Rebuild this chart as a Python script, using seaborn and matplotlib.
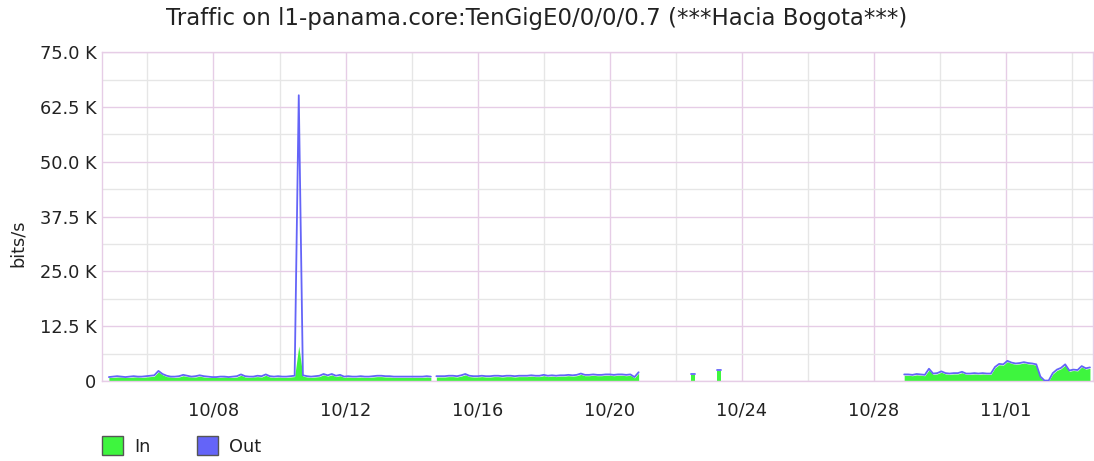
import matplotlib
matplotlib.use("Agg")
import numpy as np
import pandas as pd
import matplotlib.pyplot as plt
import seaborn as sns
import matplotlib.dates as mdates
from matplotlib.patches import Patch
from matplotlib.ticker import FuncFormatter, FixedLocator

# ---------------- data (values in K bits/s) ----------------
title = "Traffic on l1-panama.core:TenGigE0/0/0/0.7 (***Hacia Bogota***)"
ylabel = "bits/s"
series_names = ["In", "Out"]
step = "3h"

seg_starts = ["2023-10-04 20:00", "2023-10-14 18:00", "2023-10-22 11:00",
              "2023-10-23 06:00", "2023-10-28 22:00"]

out_seg1 = [0.9, 1.0, 1.1, 1.0, 0.9, 1.0, 1.1, 1.0, 1.0, 1.1,
            1.2, 1.3, 2.3, 1.6, 1.2, 1.0, 1.0, 1.1, 1.4, 1.2,
            1.0, 1.1, 1.3, 1.1, 1.0, 0.9, 0.9, 1.0, 1.0, 0.9,
            1.0, 1.1, 1.5, 1.1, 1.0, 1.0, 1.2, 1.1, 1.5, 1.1,
            1.0, 1.1, 1.0, 1.0, 1.1, 1.2, 65.2, 1.3, 1.1, 1.0,
            1.1, 1.2, 1.6, 1.3, 1.6, 1.2, 1.4, 1.0, 1.1, 1.0,
            1.0, 1.1, 1.0, 1.0, 1.1, 1.2, 1.2, 1.1, 1.1, 1.0,
            1.0, 1.0, 1.0, 1.0, 1.0, 1.0, 1.0, 1.1, 1.0]
in_seg1 = [0.8, 0.8, 0.9, 0.9, 0.8, 0.8, 0.9, 0.9, 0.8, 0.9,
           1.0, 1.1, 2.1, 1.4, 1.0, 0.9, 0.8, 0.9, 1.2, 1.0,
           0.9, 0.9, 1.1, 0.9, 0.8, 0.8, 0.8, 0.8, 0.9, 0.8,
           0.8, 0.9, 1.3, 0.9, 0.8, 0.9, 1.0, 0.9, 1.3, 0.9,
           0.8, 0.9, 0.8, 0.8, 0.9, 1.0, 8.0, 1.1, 0.9, 0.8,
           0.9, 1.0, 1.4, 1.1, 1.4, 1.0, 1.2, 0.8, 0.9, 0.8,
           0.8, 0.9, 0.8, 0.8, 0.9, 1.0, 1.0, 0.9, 0.9, 0.8,
           0.8, 0.8, 0.8, 0.8, 0.8, 0.8, 0.8, 0.9, 0.8]

out_seg2 = [1.1, 1.1, 1.1, 1.2, 1.2, 1.1, 1.3, 1.6, 1.2, 1.1,
            1.1, 1.2, 1.1, 1.1, 1.2, 1.2, 1.1, 1.2, 1.2, 1.1,
            1.2, 1.2, 1.2, 1.3, 1.2, 1.2, 1.4, 1.2, 1.3, 1.2,
            1.3, 1.3, 1.4, 1.3, 1.4, 1.7, 1.4, 1.4, 1.5, 1.4,
            1.4, 1.5, 1.5, 1.4, 1.5, 1.5, 1.4, 1.5, 0.9, 2.0]
in_seg2 = [0.9, 0.9, 0.9, 1.0, 1.0, 0.9, 1.1, 1.4, 1.0, 0.9,
           0.9, 1.0, 0.9, 0.9, 1.0, 1.0, 0.9, 1.0, 1.0, 0.9,
           1.0, 1.0, 1.0, 1.1, 1.0, 1.0, 1.2, 1.0, 1.1, 1.0,
           1.1, 1.1, 1.2, 1.1, 1.2, 1.5, 1.2, 1.2, 1.3, 1.2,
           1.2, 1.3, 1.3, 1.2, 1.3, 1.3, 1.2, 1.3, 0.7, 1.8]

out_seg3 = [1.5, 1.5]
in_seg3 = [1.3, 1.3]

out_seg4 = [2.4, 2.4]
in_seg4 = [2.2, 2.2]

out_seg5 = [1.5, 1.5, 1.4, 1.6, 1.5, 1.4, 2.8, 1.7, 1.8, 2.2,
            1.8, 1.7, 1.8, 1.8, 2.1, 1.7, 1.7, 1.8, 1.7, 1.8,
            1.7, 1.7, 3.2, 3.9, 3.8, 4.6, 4.2, 4.0, 4.1, 4.3,
            4.1, 4.0, 3.8, 1.0, 0.1, 0.1, 1.8, 2.6, 3.0, 3.8,
            2.4, 2.6, 2.5, 3.4, 2.9, 3.1]
in_seg5 = [1.3, 1.3, 1.2, 1.4, 1.3, 1.2, 2.5, 1.5, 1.6, 2.0,
           1.6, 1.5, 1.6, 1.6, 1.9, 1.5, 1.5, 1.6, 1.5, 1.6,
           1.5, 1.5, 3.0, 3.7, 3.6, 4.4, 4.0, 3.8, 3.9, 4.1,
           3.9, 3.8, 3.6, 0.8, 0.0, 0.0, 1.6, 2.4, 2.8, 3.6,
           2.2, 2.4, 2.3, 3.2, 2.7, 2.9]

x_major_dates = ["2023-10-08", "2023-10-12", "2023-10-16", "2023-10-20",
                 "2023-10-24", "2023-10-28", "2023-11-01"]
x_major_labels = ["10/08", "10/12", "10/16", "10/20", "10/24", "10/28", "11/01"]
x_minor_dates = ["2023-10-06", "2023-10-10", "2023-10-14", "2023-10-18",
                 "2023-10-22", "2023-10-26", "2023-10-30", "2023-11-03"]
x_range = ["2023-10-04 15:00", "2023-11-03 15:00"]
y_major_k = [0, 12.5, 25.0, 37.5, 50.0, 62.5, 75.0]
y_minor_k = [6.25, 18.75, 31.25, 43.75, 56.25, 68.75]

# ---------------- build table ----------------
outs = [out_seg1, out_seg2, out_seg3, out_seg4, out_seg5]
ins = [in_seg1, in_seg2, in_seg3, in_seg4, in_seg5]
frames = []
for k, (st, o, i) in enumerate(zip(seg_starts, outs, ins)):
    t = pd.date_range(st, periods=len(o), freq=step)
    frames.append(pd.DataFrame({"time": t, "Out": np.array(o) * 1000,
                                "In": np.array(i) * 1000, "seg": k}))
df = pd.concat(frames, ignore_index=True)

# ---------------- style ----------------
sns.set_theme(style="white")
plt.rcParams["font.family"] = ["DejaVu Sans"]

c_in = "#3ef53e"
c_out = "#6464f8"
c_major = "#e6cde6"
c_minor = "#e6e6e6"
txt = "#222222"

W, H = 1094, 461
fig = plt.figure(figsize=(W / 100, H / 100), dpi=100)
left, right, top, bottom = 102, 1092.7, 52.3, 381
ax = fig.add_axes([left / W, 1 - bottom / H, (right - left) / W, (bottom - top) / H])

for k, g in df.groupby("seg"):
    ax.fill_between(g["time"], 0, g["In"], color=c_in, lw=0, zorder=2)
sns.lineplot(data=df, x="time", y="Out", units="seg", estimator=None,
             color=c_out, lw=1.3, ax=ax, zorder=3, legend=False)

ax.set_xlim(pd.Timestamp(x_range[0]), pd.Timestamp(x_range[1]))
ax.set_ylim(0, 75000)

ax.xaxis.set_major_locator(FixedLocator(mdates.date2num(pd.to_datetime(x_major_dates))))
ax.xaxis.set_minor_locator(FixedLocator(mdates.date2num(pd.to_datetime(x_minor_dates))))
ax.set_xticklabels(x_major_labels)
ax.yaxis.set_major_locator(FixedLocator([v * 1000 for v in y_major_k]))
ax.yaxis.set_minor_locator(FixedLocator([v * 1000 for v in y_minor_k]))
ax.yaxis.set_major_formatter(FuncFormatter(lambda v, p: "0" if v == 0 else f"{v/1000:.1f} K"))

ax.grid(which="minor", color=c_minor, lw=1.0)
ax.grid(which="major", color=c_major, lw=1.0)
ax.set_axisbelow(True)
for s in ax.spines.values():
    s.set_color(c_major)
    s.set_linewidth(1.0)
ax.tick_params(which="both", length=0)
ax.tick_params(axis="y", pad=4, labelsize=12.8, labelcolor=txt)
ax.tick_params(axis="x", pad=15, labelsize=12.8, labelcolor=txt)
ax.set_xlabel("")
ax.set_ylabel("")

fig.text(537 / W, 1 - 18 / H, title, ha="center", va="center", fontsize=16.5, color=txt)
fig.text(18 / W, 1 - 243 / H, ylabel, ha="center", va="center", rotation=90,
         fontsize=12.8, color=txt)

handles = [Patch(facecolor=c_in, edgecolor="#555555", lw=1.0),
           Patch(facecolor=c_out, edgecolor="#555555", lw=1.0)]
fig.legend(handles, series_names, loc="center left", bbox_to_anchor=(102 / W, 1 - 446 / H),
           ncol=2, frameon=False, fontsize=12.8, handlelength=1.2, handleheight=1.2,
           handletextpad=0.6, columnspacing=2.6, borderaxespad=0, borderpad=0,
           labelcolor=txt)

fig.savefig("out.png", dpi=100)
